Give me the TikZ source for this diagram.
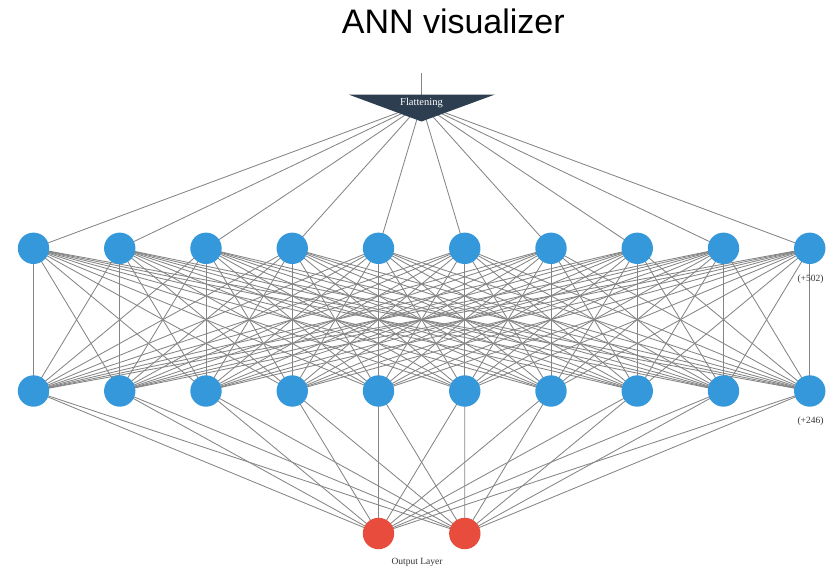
\documentclass[tikz,border=0pt]{standalone}
\usepackage{fontspec}
\setmainfont{Liberation Serif}
\newfontfamily\titlefont{Liberation Sans}
\definecolor{nodeblue}{HTML}{3498DB}
\definecolor{nodered}{HTML}{E74C3C}
\definecolor{navy}{HTML}{2C3E50}
\definecolor{edgegray}{HTML}{858585}
\definecolor{labelgray}{HTML}{333333}
\pgfdeclarelayer{bg}
\pgfsetlayers{bg,main}
\tikzset{
  hid/.style={circle, fill=nodeblue, minimum size=31.4pt, inner sep=0pt, draw=none},
  outn/.style={circle, fill=nodered, minimum size=31.4pt, inner sep=0pt, draw=none},
  edge/.style={draw=edgegray, line width=0.85pt},
  cnt/.style={font=\fontsize{9.5}{10}\selectfont, text=labelgray, inner sep=0pt},
}
\begin{document}
\begin{tikzpicture}[x=1pt,y=-1pt]
\useasboundingbox (0,0) rectangle (836,570);
\node[font=\titlefont\fontsize{34}{36}\selectfont, anchor=base, inner sep=0pt] (title) at (453.3,33) {ANN visualizer};
% flattening
\coordinate (flattop) at (421.5,73);
\coordinate (flat) at (421.5,104);
\fill[navy] (348.5,94.5) -- (495,94.5) -- (421.5,121.5) -- cycle;
\node[text=white, font=\fontsize{10.5}{11}\selectfont, inner sep=0pt] (flatlabel) at (421.5,102.5) {Flattening};
% layers
\foreach \i in {0,...,9} {
  \node[hid] (a\i) at (33.5+86.25*\i,248.3) {};
  \node[hid] (b\i) at (33.5+86.25*\i,391) {};
}
\node[outn] (o0) at (378.5,533.5) {};
\node[outn] (o1) at (464.8,533.5) {};
\node[cnt] (c1) at (810.5,279.5) {(+502)};
\node[cnt] (c2) at (810.5,421) {(+246)};
\node[cnt] (outlbl) at (417,562.5) {Output Layer};
\begin{pgfonlayer}{bg}
  \draw[edge] (flattop) -- (flat);
  \foreach \i in {0,...,9} {
    \draw[edge] (flat) -- (a\i.center);
    \foreach \j in {0,...,9} {
      \draw[edge] (a\i.center) -- (b\j.center);
    }
    \draw[edge] (b\i.center) -- (o0.center);
    \draw[edge] (b\i.center) -- (o1.center);
  }
\end{pgfonlayer}
\end{tikzpicture}
\end{document}
